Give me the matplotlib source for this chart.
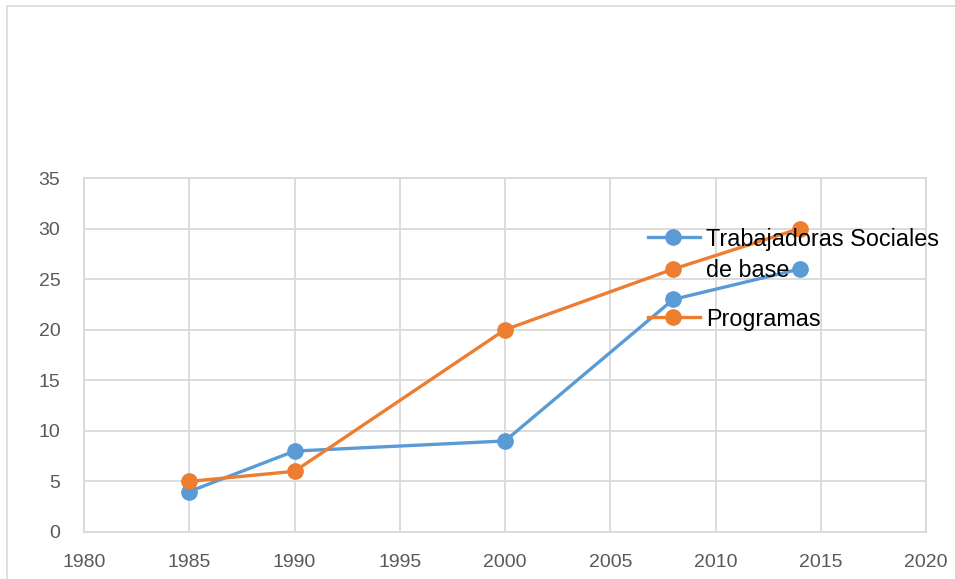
import matplotlib
matplotlib.use("Agg")
import matplotlib.pyplot as plt
from matplotlib.lines import Line2D
from matplotlib.patches import Rectangle

years = [1985, 1990, 2000, 2008, 2014]
trabajadoras = [4, 8, 9, 23, 26]
programas = [5, 6, 20, 26, 30]
series_names = ["Trabajadoras Sociales\nde base", "Programas"]
x_ticks = [1980, 1985, 1990, 1995, 2000, 2005, 2010, 2015, 2020]
y_ticks = [0, 5, 10, 15, 20, 25, 30, 35]

BLUE = "#5B9BD5"
ORANGE = "#ED7D31"
GRID = "#D9D9D9"
TICK = "#595959"

plt.rcParams['font.family'] = ['Liberation Sans', 'DejaVu Sans']

W, H = 955, 579
fig = plt.figure(figsize=(W / 100, H / 100), dpi=100)

# chart border (top & left visible)
fig.add_artist(Rectangle((7 / W, -0.5), 2.0, 1.5 - 6 / H, transform=fig.transFigure,
                         fill=False, edgecolor=GRID, linewidth=1.2))

ax = fig.add_axes([84 / W, 1 - 532 / H, (926 - 84) / W, (532 - 178) / H])
ax.plot(years, trabajadoras, color=BLUE, lw=2.4, marker='o', ms=11, zorder=3)
ax.plot(years, programas, color=ORANGE, lw=2.4, marker='o', ms=11, zorder=3)

ax.set_xlim(1980, 2020)
ax.set_ylim(0, 35)
ax.set_xticks(x_ticks)
ax.set_yticks(y_ticks)
ax.grid(True, color=GRID, lw=1.3)
ax.set_axisbelow(True)
for s in ax.spines.values():
    s.set_color(GRID)
    s.set_linewidth(1.3)
ax.tick_params(length=0, labelsize=14, colors=TICK)
ax.tick_params(axis='x', pad=16)
ax.tick_params(axis='y', pad=17)

# legend (overlapping the plot, Excel style)
entries = [(series_names[0], BLUE, 237, 228), (series_names[1], ORANGE, 317, 308)]
for label, col, yc, ytop in entries:
    fig.add_artist(Line2D([648 / W, 700 / W], [1 - yc / H, 1 - yc / H],
                          transform=fig.transFigure, color=col, lw=2.4,
                          zorder=5))
    fig.add_artist(Line2D([673 / W], [1 - yc / H], transform=fig.transFigure,
                          color=col, marker='o', ms=11, zorder=5))
    fig.text(706 / W, 1 - ytop / H, label, fontsize=16.8, color='black',
             va='top', ha='left', linespacing=1.42, zorder=6)

fig.savefig("out.png", dpi=100)
